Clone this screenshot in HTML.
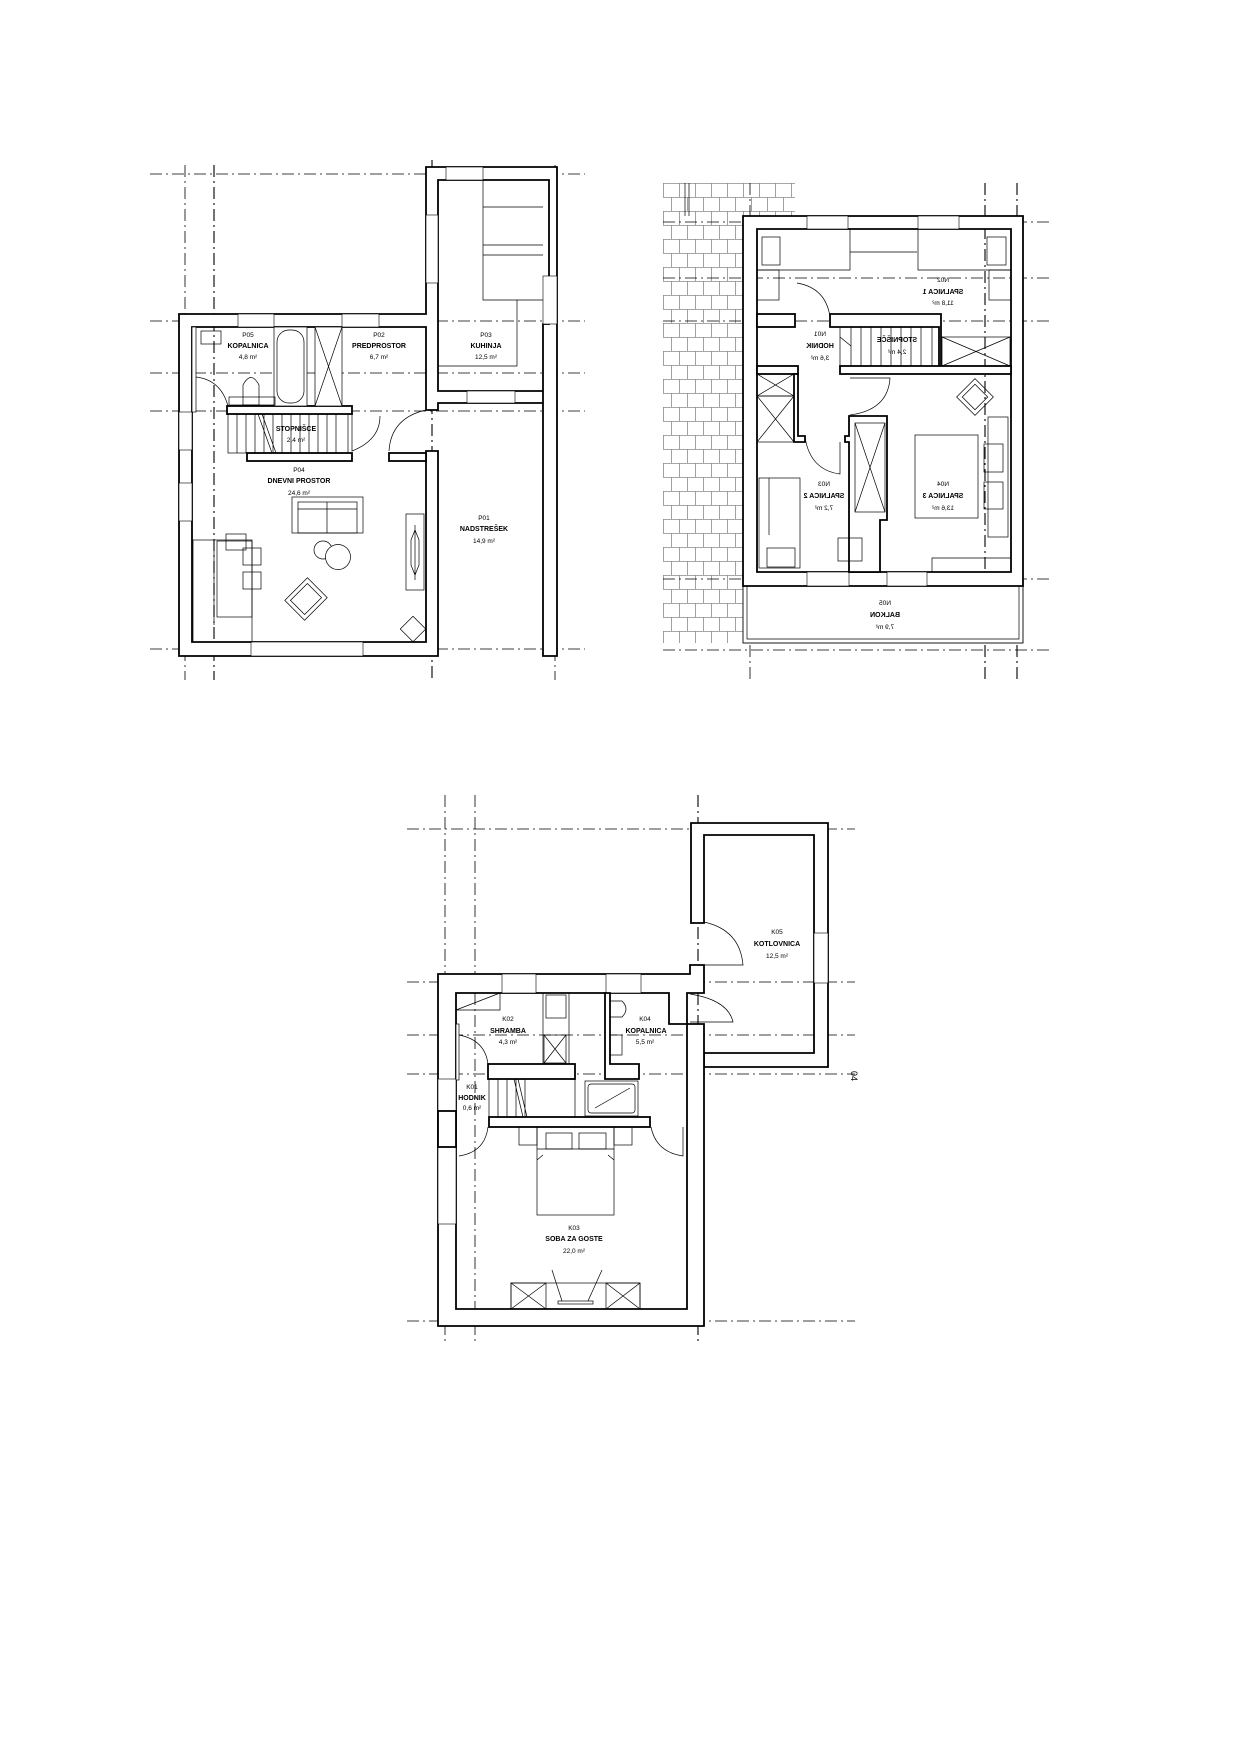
<!DOCTYPE html>
<html><head><meta charset="utf-8"><style>
html,body{margin:0;padding:0;background:#fff;}
svg{display:block;}
.w{fill:#fff;stroke:#000;stroke-width:1.8;}
.f{fill:none;stroke:#000;stroke-width:0.7;}
.fw{fill:#fff;stroke:#000;stroke-width:0.7;}
.ax{stroke:#000;stroke-width:0.8;stroke-dasharray:12 4 2 4;fill:none;}
.axv{stroke:#000;stroke-width:1.1;stroke-dasharray:12 4 2 4;fill:none;}
.win{fill:#fff;stroke:#000;stroke-width:0.6;}
text{font-family:"Liberation Sans",sans-serif;text-anchor:middle;fill:#000;}
.c{font-size:6.5px;}
.n{font-size:7px;font-weight:bold;}
</style></head><body>
<svg width="1240" height="1755" viewBox="0 0 1240 1755" xmlns="http://www.w3.org/2000/svg">
<defs>
<pattern id="tile" x="663" y="183" width="32" height="28" patternUnits="userSpaceOnUse">
<path d="M0 0.5H32M0 14.5H32M0.5 0V14M16.5 0V14M8.5 14V28M24.5 14V28" stroke="#8a8a8a" stroke-width="0.8" fill="none"/>
</pattern>
</defs>
<rect width="1240" height="1755" fill="#fff"/>

<!-- ============ PLAN 1 ============ -->
<g>
<!-- axes -->
<path class="ax" d="M150 174H585M150 321H585M150 373H585M150 411H585M150 649H585"/>
<path class="ax" d="M185 165V680M555 165V680"/>
<path class="axv" d="M214 165V680M432 160V680"/>
<!-- outer walls -->
<path class="w" d="M179 314H426V167H557V656H543V324H549V180H438V391H543V403H438V410H426V327H192V642H426V451H438V656H179Z"/>
<!-- windows -->
<rect class="win" x="238" y="314" width="36" height="13"/>
<rect class="win" x="342" y="314" width="37" height="13"/>
<rect class="win" x="179" y="412" width="13" height="38"/>
<rect class="win" x="179" y="483" width="13" height="38"/>
<rect class="win" x="426" y="215" width="12" height="68"/>
<rect class="win" x="446" y="167" width="37" height="13"/>
<rect class="win" x="543" y="276" width="14" height="48"/>
<rect class="win" x="467" y="391" width="48" height="12"/>
<rect class="win" x="251" y="642" width="112" height="14"/>
<!-- bathroom walls -->
<rect class="w" x="227" y="406" width="125" height="8"/>
<rect class="w" x="247" y="453" width="105" height="8"/>
<rect class="w" x="389" y="453" width="37" height="8"/>
<rect class="fw" x="192" y="327" width="4" height="85"/>
<!-- bath furniture -->
<rect class="f" x="201" y="331" width="20" height="13"/>
<rect class="fw" x="274" y="327" width="33" height="79"/>
<rect class="f" x="277" y="330" width="27" height="73" rx="12"/>
<rect class="fw" x="315" y="327" width="27" height="79"/>
<path class="f" d="M315 327L342 406M342 327L315 406"/>
<path class="f" d="M243 405V385Q251 370 259 385V405Z"/>
<rect class="f" x="229" y="397" width="46" height="8"/>
<path class="f" d="M196 377Q221 380 228 406"/>
<!-- stairs -->
<rect class="f" x="228" y="414" width="120" height="39"/>
<path class="f" d="M237 414V453M246 414V453M255 414V453M264 414V453M273 414V453M282 414V453M291 414V453M300 414V453M309 414V453M318 414V453M327 414V453M336 414V453M258 414L272 453M262 414L276 453"/>
<!-- doors -->
<path class="f" d="M352 414V451Q380 440 380 416"/>
<path class="f" d="M389 451Q391 418 426 410"/>
<!-- living furniture -->
<rect class="f" x="292" y="497" width="71" height="36"/>
<rect class="f" x="298" y="502" width="59" height="31"/>
<path class="f" d="M327 502V533M298 509H357"/>
<rect class="f" x="193" y="540" width="59" height="102"/>
<rect class="f" x="217" y="541" width="35" height="76"/>
<rect class="f" x="226" y="534" width="20" height="16"/>
<rect class="f" x="243" y="548" width="18" height="17"/>
<rect class="f" x="243" y="572" width="18" height="17"/>
<path class="f" d="M214 541V625"/>
<circle class="f" cx="323" cy="550" r="9"/>
<circle class="fw" cx="338" cy="557" r="12.5"/>
<g transform="translate(306 599) rotate(-45)"><rect class="f" x="-16" y="-14" width="32" height="28"/><rect class="f" x="-12" y="-10" width="24" height="20"/></g>
<rect class="f" x="406" y="514" width="18" height="76"/>
<path class="f" d="M415 525V580M411 540L415 530L419 540L419 565L415 575L411 565Z"/>
<g transform="translate(413 629) rotate(45)"><rect class="f" x="-9" y="-9" width="18" height="18"/></g>
<!-- kitchen counter -->
<path class="f" d="M483 180V300H517V366H438M483 207H543M483 245H543M483 255H543M483 300H543"/>
<!-- labels -->
<text class="c" x="248" y="337">P05</text><text class="n" x="248" y="348">KOPALNICA</text><text class="c" x="248" y="359">4,8 m²</text>
<text class="c" x="379" y="337">P02</text><text class="n" x="379" y="348">PREDPROSTOR</text><text class="c" x="379" y="359">6,7 m²</text>
<text class="c" x="486" y="337">P03</text><text class="n" x="486" y="348">KUHINJA</text><text class="c" x="486" y="359">12,5 m²</text>
<text class="n" x="296" y="431">STOPNIŠCE</text><text class="c" x="296" y="442">2,4 m²</text>
<text class="c" x="299" y="472">P04</text><text class="n" x="299" y="483">DNEVNI PROSTOR</text><text class="c" x="299" y="495">24,6 m²</text>
<text class="c" x="484" y="520">P01</text><text class="n" x="484" y="531">NADSTREŠEK</text><text class="c" x="484" y="543">14,9 m²</text>
</g>

<!-- ============ PLAN 2 ============ -->
<g>
<path d="M663 183H795V216H743V643H663Z" fill="url(#tile)"/>
<path class="f" d="M685 183V216M689 183V216" stroke="#666"/>
<path class="ax" d="M663 222H1050M663 278H1050M663 321H1050M663 579H1050M663 650H1050"/>
<path class="ax" d="M750 183V680"/>
<path class="axv" d="M985 183V680M1017 183V680"/>
<!-- balcony -->
<rect x="743" y="586" width="280" height="57" fill="#fff" stroke="#000" stroke-width="0.9"/>
<path class="f" d="M747 586V639H1019V586"/>
<!-- outer walls -->
<path class="w" fill-rule="evenodd" d="M743 216H1023V586H743Z M757 229V572H1011V229Z"/>
<rect class="win" x="807" y="216" width="41" height="13"/>
<rect class="win" x="918" y="216" width="41" height="13"/>
<rect class="win" x="807" y="572" width="42" height="14"/>
<rect class="win" x="887" y="572" width="40" height="14"/>
<!-- interior walls -->
<rect class="w" x="757" y="314" width="38" height="13"/>
<path class="w" d="M830 314H941V367H939V327H830Z"/>
<rect class="w" x="757" y="366" width="41" height="8"/>
<rect class="w" x="840" y="366" width="171" height="8"/>
<path class="w" d="M794 374H798V436H805V442H794Z"/>
<path class="w" d="M849 416H887V520H880V572H849V442H845V436H849Z"/>
<!-- stairs -->
<rect class="f" x="840" y="327" width="92" height="39"/>
<path class="f" d="M851 327V366M861 327V366M871 327V366M881 327V366M891 327V366M901 327V366M911 327V366M921 327V366M851 346L840 337"/>
<rect class="f" x="942" y="337" width="68" height="29"/><path class="f" d="M942 337L1010 366M1010 337L942 366"/>
<!-- wardrobes -->
<rect class="f" x="757" y="374" width="37" height="22"/><path class="f" d="M757 374L794 396M794 374L757 396"/>
<rect class="f" x="757" y="396" width="37" height="46"/><path class="f" d="M757 396L794 442M794 396L757 442"/>
<rect class="f" x="855" y="423" width="30" height="89"/><path class="f" d="M855 423L885 512M885 423L855 512"/>
<!-- S1 furniture -->
<path class="f" d="M757 270H850V229M918 229V270H1011M850 252H917M850 229V252"/>
<rect class="f" x="762" y="237" width="18" height="28"/><rect class="f" x="987" y="237" width="19" height="28"/>
<rect class="f" x="757" y="270" width="22" height="30"/><rect class="f" x="989" y="270" width="22" height="30"/>
<!-- S3 furniture -->
<rect class="f" x="915" y="435" width="63" height="83"/>
<rect class="f" x="988" y="417" width="20" height="120"/>
<rect class="f" x="984" y="444" width="19" height="28"/><rect class="f" x="984" y="482" width="19" height="27"/>
<g transform="translate(975 397) rotate(45)"><rect class="f" x="-13" y="-13" width="26" height="26"/><rect class="f" x="-9" y="-9" width="18" height="18"/></g>
<path class="f" d="M932 572V558H1011"/>
<!-- S2 furniture -->
<rect class="f" x="759" y="478" width="41" height="90"/><rect class="f" x="767" y="548" width="28" height="19"/><path class="f" d="M769 478V535"/>
<rect class="f" x="838" y="538" width="24" height="23"/>
<!-- doors -->
<path class="f" d="M797 283Q826 288 830 317"/>
<path class="f" d="M850 378H890Q888 410 850 415"/>
<path class="f" d="M805 437Q810 470 840 474V442"/>
<!-- labels (mirrored) -->
<g transform="translate(1886 0) scale(-1 1)">
<text class="c" x="943" y="282">N02</text><text class="n" x="943" y="294">SPALNICA 1</text><text class="c" x="943" y="305">11,8 m²</text>
<text class="c" x="1066" y="336">N01</text><text class="n" x="1066" y="348">HODNIK</text><text class="c" x="1066" y="360">3,6 m²</text>
<text class="n" x="989" y="342">STOPNIŠČE</text><text class="c" x="989" y="354">2,4 m²</text>
<text class="c" x="1062" y="486">N03</text><text class="n" x="1062" y="498">SPALNICA 2</text><text class="c" x="1062" y="510">7,2 m²</text>
<text class="c" x="943" y="486">N04</text><text class="n" x="943" y="498">SPALNICA 3</text><text class="c" x="943" y="510">13,6 m²</text>
<text class="c" x="1001" y="605">N05</text><text class="n" x="1001" y="617">BALKON</text><text class="c" x="1001" y="629">7,9 m²</text>
</g>
</g>

<!-- ============ PLAN 3 ============ -->
<g>
<path class="ax" d="M407 829H855M407 982H855M407 1035H855M407 1074H855M407 1321H855"/>
<path class="ax" d="M445 795V1345M475 795V1345"/>
<path class="axv" d="M698 795V1345"/>
<!-- kotlovnica -->
<path class="w" d="M691 823H828V1067H704V1053H814V835H704V923H691Z"/>
<rect class="win" x="814" y="933" width="14" height="50"/>
<!-- main outer -->
<path class="w" d="M438 974H690V965H704V993H687V1024H704V1326H438Z M456 993V1309H687V1024H669V993Z" fill-rule="evenodd"/>
<rect class="win" x="502" y="974" width="34" height="19"/>
<rect class="win" x="606" y="974" width="35" height="19"/>
<rect class="win" x="438" y="1079" width="18" height="32"/>
<rect class="win" x="438" y="1147" width="18" height="77"/>
<rect class="w" x="438" y="1111" width="18" height="36"/>
<!-- interior walls -->
<rect class="w" x="488" y="1064" width="87" height="15"/>
<path class="w" d="M605 993H610V1064H639V1079H605Z"/>
<rect class="w" x="489" y="1117" width="161" height="10"/>
<rect class="fw" x="456" y="1024" width="3" height="56"/>
<!-- shramba -->
<path class="f" d="M456 1010L500 993M500 993V1010H456"/>
<rect class="f" x="543" y="993" width="26" height="71"/>
<rect class="f" x="546" y="995" width="20" height="23"/>
<rect class="f" x="544" y="1035" width="22" height="28"/><path class="f" d="M544 1035L566 1063M566 1035L544 1063"/>
<!-- kopalnica -->
<path class="f" d="M610 1001H622Q630 1009 622 1017H610Z"/>
<rect class="f" x="610" y="1035" width="12" height="20"/>
<!-- stairs -->
<rect class="f" x="489" y="1079" width="86" height="38"/>
<path class="f" d="M498 1079V1117M507 1079V1117M516 1079V1117M525 1079V1117M514 1079L523 1117M518 1079L527 1117"/>
<rect class="f" x="585" y="1081" width="53" height="35"/><rect class="f" x="588" y="1084" width="47" height="29" rx="3"/><path class="f" d="M595 1108L630 1088"/>
<!-- bed -->
<rect class="f" x="519" y="1127" width="18" height="18"/><rect class="f" x="614" y="1127" width="18" height="18"/>
<rect class="f" x="537" y="1127" width="77" height="88"/>
<rect class="f" x="546" y="1133" width="26" height="16"/><rect class="f" x="579" y="1133" width="27" height="16"/>
<path class="f" d="M537 1149H614M537 1160L543 1155M614 1160L608 1155"/>
<!-- wardrobe bottom -->
<rect class="f" x="511" y="1283" width="129" height="26"/>
<rect class="f" x="511" y="1283" width="35" height="26"/><path class="f" d="M511 1283L546 1309M546 1283L511 1309"/>
<rect class="f" x="606" y="1283" width="34" height="26"/><path class="f" d="M606 1283L640 1309M640 1283L606 1309"/>
<rect class="f" x="558" y="1301" width="35" height="3"/><path class="f" d="M552 1270L562 1301M602 1270L588 1301"/>
<!-- doors -->
<path class="f" d="M459 1035Q485 1040 488 1064"/>
<path class="f" d="M459 1156Q485 1152 488 1127"/>
<path class="f" d="M651 1127Q656 1152 683 1156V1127"/>
<path class="f" d="M704 922Q740 930 743 965H704"/>
<path class="f" d="M690 994Q728 1000 733 1022H690"/>
<!-- labels -->
<text class="c" x="777" y="934">K05</text><text class="n" x="777" y="946">KOTLOVNICA</text><text class="c" x="777" y="958">12,5 m²</text>
<text class="c" x="508" y="1021">K02</text><text class="n" x="508" y="1033">SHRAMBA</text><text class="c" x="508" y="1044">4,3 m²</text>
<text class="c" x="645" y="1021">K04</text><text class="n" x="646" y="1033">KOPALNICA</text><text class="c" x="645" y="1044">5,5 m²</text>
<text class="c" x="472" y="1089">K01</text><text class="n" x="472" y="1100">HODNIK</text><text class="c" x="472" y="1110">0,6 m²</text>
<text class="c" x="574" y="1230">K03</text><text class="n" x="574" y="1241">SOBA ZA GOSTE</text><text class="c" x="574" y="1253">22,0 m²</text>
<text class="c" x="0" y="0" transform="translate(851 1076) rotate(90)" style="font-size:9px">04</text>
</g>
</svg>
</body></html>
